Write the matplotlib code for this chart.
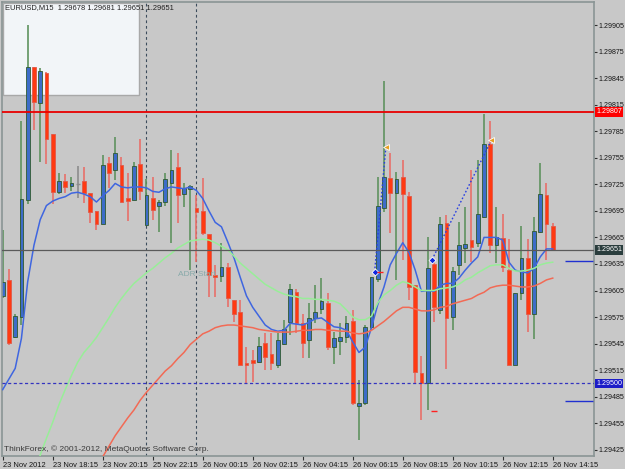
import numpy as np
import matplotlib
matplotlib.use("Agg")
import matplotlib.pyplot as plt
import matplotlib.transforms as mtransforms
from matplotlib.patches import Rectangle

plt.rcParams["font.family"] = ["Liberation Sans", "DejaVu Sans"]

# EURUSD M15 candles, bar 0 = 23 Nov 16:15
opens = [1.29599, 1.29617, 1.29552, 1.29575, 1.29707, 1.29857, 1.29817, 1.29851, 1.29782, 1.29716,
         1.29729, 1.29723, 1.29725, 1.29729, 1.29715, 1.29695, 1.29680, 1.29749, 1.29741, 1.29747,
         1.29710, 1.29707, 1.29748, 1.29679, 1.29709, 1.29700, 1.29705, 1.29726, 1.29744, 1.29714,
         1.29720, 1.29698, 1.29695, 1.29669, 1.29622, 1.29621, 1.29631, 1.29594, 1.29581, 1.29523,
         1.29526, 1.29524, 1.29546, 1.29533, 1.29521, 1.29544, 1.29569, 1.29603, 1.29568, 1.29549,
         1.29574, 1.29584, 1.29591, 1.29541, 1.29548, 1.29552, 1.29570, 1.29474, 1.29478, 1.29564,
         1.29618, 1.29698, 1.29732, 1.29715, 1.29733, 1.29712, 1.29611, 1.29512, 1.29500, 1.29635,
         1.29583, 1.29681, 1.29575, 1.29634, 1.29653, 1.29662, 1.29659, 1.29688, 1.29770, 1.29656,
         1.29664, 1.29628, 1.29521, 1.29602, 1.29642, 1.29579, 1.29671, 1.29713, 1.29678]
highs = [1.29673, 1.29629, 1.29578, 1.29797, 1.29905, 1.29857, 1.29856, 1.29852, 1.29782, 1.29738,
         1.29737, 1.29733, 1.29746, 1.29744, 1.29715, 1.29695, 1.29758, 1.29756, 1.29778, 1.29756,
         1.29738, 1.29750, 1.29776, 1.29731, 1.29733, 1.29707, 1.29738, 1.29764, 1.29760, 1.29727,
         1.29724, 1.29713, 1.29732, 1.29669, 1.29634, 1.29659, 1.29636, 1.29594, 1.29594, 1.29541,
         1.29538, 1.29553, 1.29557, 1.29557, 1.29557, 1.29572, 1.29612, 1.29607, 1.29579, 1.29591,
         1.29611, 1.29619, 1.29602, 1.29558, 1.29568, 1.29576, 1.29583, 1.29504, 1.29566, 1.29620,
         1.29733, 1.29842, 1.29760, 1.29739, 1.29752, 1.29716, 1.29611, 1.29531, 1.29665, 1.29639,
         1.29688, 1.29690, 1.29631, 1.29682, 1.29699, 1.29741, 1.29752, 1.29805, 1.29797, 1.29699,
         1.29692, 1.29663, 1.29602, 1.29678, 1.29663, 1.29688, 1.29749, 1.29726, 1.29681]
lows = [1.29596, 1.29543, 1.29551, 1.29566, 1.29703, 1.29786, 1.29750, 1.29748, 1.29703, 1.29714,
        1.29715, 1.29718, 1.29709, 1.29704, 1.29681, 1.29673, 1.29680, 1.29721, 1.29730, 1.29705,
        1.29683, 1.29707, 1.29707, 1.29679, 1.29685, 1.29671, 1.29701, 1.29659, 1.29681, 1.29699,
        1.29628, 1.29637, 1.29668, 1.29598, 1.29598, 1.29615, 1.29586, 1.29569, 1.29521, 1.29500,
        1.29502, 1.29523, 1.29515, 1.29515, 1.29518, 1.29543, 1.29555, 1.29557, 1.29529, 1.29529,
        1.29568, 1.29579, 1.29538, 1.29522, 1.29532, 1.29546, 1.29476, 1.29436, 1.29476, 1.29560,
        1.29615, 1.29694, 1.29670, 1.29617, 1.29640, 1.29594, 1.29500, 1.29459, 1.29470, 1.29569,
        1.29579, 1.29516, 1.29560, 1.29622, 1.29636, 1.29637, 1.29654, 1.29687, 1.29647, 1.29636,
        1.29626, 1.29521, 1.29521, 1.29594, 1.29558, 1.29550, 1.29670, 1.29640, 1.29651]
closes = [1.29615, 1.29546, 1.29576, 1.29708, 1.29857, 1.29818, 1.29853, 1.29776, 1.29716, 1.29729,
          1.29722, 1.29726, 1.29725, 1.29715, 1.29694, 1.29680, 1.29747, 1.29738, 1.29760, 1.29705,
          1.29706, 1.29746, 1.29718, 1.29713, 1.29696, 1.29705, 1.29731, 1.29741, 1.29713, 1.29721,
          1.29723, 1.29694, 1.29670, 1.29622, 1.29620, 1.29631, 1.29596, 1.29579, 1.29521, 1.29521,
          1.29523, 1.29542, 1.29530, 1.29523, 1.29549, 1.29561, 1.29607, 1.29568, 1.29546, 1.29574,
          1.29581, 1.29593, 1.29541, 1.29551, 1.29552, 1.29568, 1.29478, 1.29478, 1.29564, 1.29620,
          1.29700, 1.29733, 1.29715, 1.29731, 1.29714, 1.29609, 1.29513, 1.29500, 1.29630, 1.29586,
          1.29680, 1.29574, 1.29627, 1.29656, 1.29657, 1.29654, 1.29692, 1.29771, 1.29656, 1.29666,
          1.29631, 1.29521, 1.29602, 1.29642, 1.29579, 1.29672, 1.29714, 1.29680, 1.29651]

# moving averages
ma_fast = [1.29493, 1.29505, 1.29517, 1.29551, 1.29615, 1.29656, 1.29685, 1.29701, 1.29706, 1.29709,
           1.29711, 1.29715, 1.29716, 1.29714, 1.29711, 1.29705, 1.29712, 1.29718, 1.29726, 1.29722,
           1.29721, 1.29722, 1.29722, 1.29721, 1.29717, 1.29716, 1.29720, 1.29722, 1.29721, 1.29720,
           1.29722, 1.29718, 1.29709, 1.29695, 1.29682, 1.29677, 1.29660, 1.29642, 1.29620, 1.29599,
           1.29586, 1.29576, 1.29566, 1.29561, 1.29559, 1.29560, 1.29568, 1.29567, 1.29566, 1.29569,
           1.29573, 1.29574, 1.29569, 1.29564, 1.29563, 1.29560, 1.29547, 1.29535, 1.29541, 1.29563,
           1.29589, 1.29609, 1.29634, 1.29647, 1.29659, 1.29648, 1.29628, 1.29604, 1.29605, 1.29604,
           1.29611, 1.29613, 1.29613, 1.29619, 1.29628, 1.29636, 1.29643, 1.29665, 1.29665, 1.29665,
           1.29662, 1.29637, 1.29628, 1.29626, 1.29625, 1.29630, 1.29643, 1.29652, 1.29652]
ma_mid_first = 5
ma_mid = [1.29400, 1.29419, 1.29438, 1.29456, 1.29476, 1.29493, 1.29509, 1.29524, 1.29535, 1.29543,
          1.29552, 1.29563, 1.29574, 1.29586, 1.29596, 1.29605, 1.29613, 1.29619, 1.29625, 1.29630,
          1.29636, 1.29642, 1.29647, 1.29653, 1.29657, 1.29661, 1.29662, 1.29663, 1.29662, 1.29659,
          1.29655, 1.29651, 1.29644, 1.29636, 1.29630, 1.29624, 1.29618, 1.29612, 1.29608, 1.29604,
          1.29601, 1.29599, 1.29598, 1.29596, 1.29596, 1.29595, 1.29595, 1.29594, 1.29593, 1.29590,
          1.29583, 1.29575, 1.29572, 1.29572, 1.29576, 1.29591, 1.29600, 1.29605, 1.29611, 1.29615,
          1.29613, 1.29609, 1.29605, 1.29605, 1.29605, 1.29607, 1.29608, 1.29609, 1.29612, 1.29617,
          1.29620, 1.29625, 1.29629, 1.29633, 1.29634, 1.29634, 1.29630, 1.29627, 1.29627, 1.29628,
          1.29630, 1.29634, 1.29636, 1.29637]
ma_slow_first = 15
ma_slow = [1.29404, 1.29417, 1.29429, 1.29441, 1.29451, 1.29461, 1.29470, 1.29481, 1.29490, 1.29498,
           1.29506, 1.29514, 1.29520, 1.29528, 1.29535, 1.29544, 1.29550, 1.29556, 1.29559, 1.29563,
           1.29565, 1.29566, 1.29566, 1.29565, 1.29564, 1.29563, 1.29561, 1.29560, 1.29559, 1.29558,
           1.29558, 1.29558, 1.29559, 1.29560, 1.29560, 1.29561, 1.29561, 1.29560, 1.29560, 1.29559,
           1.29559, 1.29557, 1.29556, 1.29557, 1.29560, 1.29565, 1.29570, 1.29576, 1.29582, 1.29586,
           1.29586, 1.29584, 1.29582, 1.29582, 1.29583, 1.29586, 1.29587, 1.29590, 1.29592, 1.29594,
           1.29596, 1.29600, 1.29603, 1.29608, 1.29610, 1.29611, 1.29611, 1.29610, 1.29609, 1.29609,
           1.29610, 1.29613, 1.29617, 1.29619]

# signal arrows and the dotted lines joining them
buy_x = [59.5, 68.7]
buy_y = [1.29626, 1.29640]
sell_x = [61.3, 78.2]
sell_y = [1.29767, 1.29775]
stop_x = [60.3, 69.0]
stop_y = [1.29626, 1.29469]

resistance = 1.29807
support = 1.29500
target_levels = [1.29638, 1.29480]
separator_bars = [23, 31]

tick_bars = [0, 8, 16, 24, 32, 40, 48, 56, 64, 72, 80, 88]
tick_labels = ["23 Nov 2012", "23 Nov 18:15", "23 Nov 20:15", "25 Nov 22:15",
               "26 Nov 00:15", "26 Nov 02:15", "26 Nov 04:15", "26 Nov 06:15",
               "26 Nov 08:15", "26 Nov 10:15", "26 Nov 12:15", "26 Nov 14:15"]
price_ticks = [1.29425, 1.29455, 1.29485, 1.29515, 1.29545, 1.29575, 1.29605, 1.29635, 1.29665,
               1.29695, 1.29725, 1.29755, 1.29785, 1.29815, 1.29845, 1.29875, 1.29905]

bg = "#c8c8c8"
fig = plt.figure(figsize=(6.25, 4.69), dpi=100, facecolor=bg)
ax = fig.add_axes([2 / 625, 13 / 469, 592 / 625, 454 / 469], facecolor=bg)

# ADR panel in the upper left corner
ax.add_patch(Rectangle((0.0017, 0.7952), 0.2297, 0.2026, transform=ax.transAxes,
                       facecolor="#f2f5f8", edgecolor="#a8a8a8", lw=1, zorder=0.5))

for b in separator_bars:
    ax.axvline(b, color="#3c4c5c", lw=0.8, ls=(0, (2.5, 2.5)), zorder=1.5)

# candles
for i in range(len(opens)):
    o, h, l, c = opens[i], highs[i], lows[i], closes[i]
    if c > o:
        wick, body, edge = "#5f935f", "#3d6cc8", "#2f5a2f"
    elif c < o:
        wick, body, edge = "#e8706a", "#ff3a12", "#e05a4a"
    else:
        wick, body, edge = "#8c8c8c", "#8c8c8c", "#8c8c8c"
    ax.vlines(i, l, h, color=wick, lw=1.2, zorder=2)
    if c != o:
        ax.add_patch(Rectangle((i - 0.3, min(o, c)), 0.6, abs(c - o),
                               facecolor=body, edgecolor=edge, lw=0.6, zorder=2.2))
    else:
        ax.hlines(o, i - 0.3, i + 0.3, color=wick, lw=1, zorder=2.2)

# moving averages
ax.plot(np.arange(len(ma_fast)), ma_fast, color="#3f66e0", lw=1.1, zorder=3)
ax.plot(np.arange(ma_mid_first, ma_mid_first + len(ma_mid)), ma_mid, color="#98ee98", lw=1.1, zorder=3)
ax.plot(np.arange(ma_slow_first, ma_slow_first + len(ma_slow)), ma_slow, color="#f26a55", lw=1.1, zorder=3)

# horizontal levels
bid = closes[-1]
ax.axhline(resistance, color="#e80000", lw=1.3, zorder=4)
ax.axhline(bid, color="#5a5a5a", lw=0.9, zorder=4)
ax.axhline(support, color="#3434c0", lw=0.9, ls=(0, (2.5, 2)), zorder=4)
for lv in target_levels:
    ax.hlines(lv, 90, 94.5, color="#2030d0", lw=1, zorder=4)

# signals
for bx, by, sx, sy in zip(buy_x, buy_y, sell_x, sell_y):
    ax.plot([bx, sx], [by, sy], color="#2a40e0", lw=1, ls=(0, (1.2, 1.5)), zorder=4)
ax.plot(buy_x, buy_y, "D", ms=3.5, color="#1028e0", mec="white", mew=0.6, zorder=5)
ax.plot(sell_x, sell_y, "<", ms=4, color="#e8a020", mec="white", mew=0.6, zorder=5)
ax.plot(stop_x, stop_y, "_", ms=4, color="#ff2020", mew=1, zorder=5)

ax.text(28, 1.29623, "ADR Start", fontsize=6, color="#88aaaa", va="center", ha="left", zorder=4)

ax.set_xlim(-0.11, 94.6)
ax.set_ylim(1.29418, 1.29931)

ax.yaxis.tick_right()
ax.set_yticks(price_ticks)
ax.set_yticklabels([f"{p:.5f}" for p in price_ticks])
ax.set_xticks(tick_bars)
ax.set_xticklabels(tick_labels)
for t in ax.get_xticklabels():
    t.set_ha("left")
ax.tick_params(axis="y", direction="out", length=2, width=0.8, color="#303030",
               pad=1, labelsize=5.1, labelcolor="#151515")
ax.tick_params(axis="x", direction="out", length=3, width=0.8, color="#303030",
               pad=1.5, labelsize=5.4, labelcolor="#151515")
for s in ax.spines.values():
    s.set_color("#8a9595")
    s.set_linewidth(1.2)

# price tags on the right axis
trans = mtransforms.blended_transform_factory(ax.transAxes, ax.transData)
for lv, fc in [(resistance, "#ff0000"), (bid, "#2a3d3d"), (support, "#1c1cc8")]:
    ax.text(1.0035, lv, f"{lv:.5f}", transform=trans, fontsize=5.1, color="white",
            ha="left", va="center", clip_on=False, zorder=6,
            bbox=dict(boxstyle="square,pad=0.2", fc=fc, ec="none"))

ax.text(0.005, 0.996, f"EURUSD,M15  {opens[-1]:.5f} {highs[-1]:.5f} {lows[-1]:.5f} {closes[-1]:.5f}",
        transform=ax.transAxes, fontsize=5.4, color="#202020", ha="left", va="top", zorder=6)
ax.text(0.0034, 0.0154, "ThinkForex, \u00a9 2001-2012, MetaQuotes Software Corp.",
        transform=ax.transAxes, fontsize=6, color="#3a3a3a", ha="left", va="center", zorder=6)

fig.savefig("out.png", dpi=100, facecolor=bg)
